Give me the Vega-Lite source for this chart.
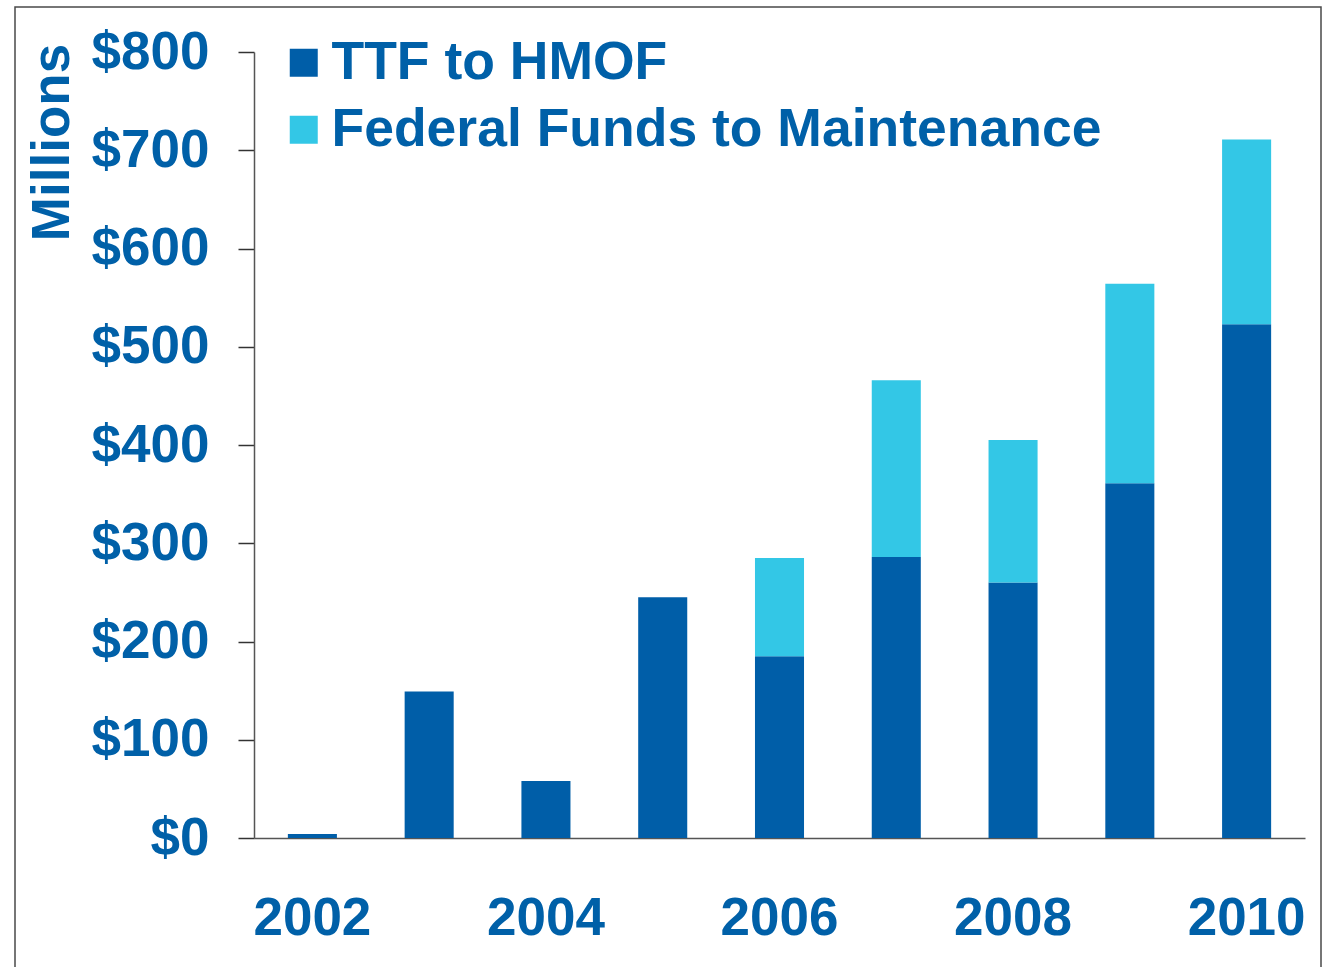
{
  "$schema": "https://vega.github.io/schema/vega-lite/v6.json",
  "width": 1306,
  "height": 962,
  "autosize": {"type": "none"},
  "padding": {"left": 15, "top": 7, "right": 5, "bottom": -2},
  "background": "white",
  "config": {
    "view": {"stroke": "#4a4a4a", "strokeWidth": 1.5},
    "font": "Liberation Sans"
  },
  "data": {
    "values": [
      {"year": 2002, "series": "TTF to HMOF", "amount": 4},
      {"year": 2003, "series": "TTF to HMOF", "amount": 149},
      {"year": 2004, "series": "TTF to HMOF", "amount": 58},
      {"year": 2005, "series": "TTF to HMOF", "amount": 245},
      {"year": 2006, "series": "TTF to HMOF", "amount": 185},
      {"year": 2006, "series": "Federal Funds to Maintenance", "amount": 100},
      {"year": 2007, "series": "TTF to HMOF", "amount": 286},
      {"year": 2007, "series": "Federal Funds to Maintenance", "amount": 180},
      {"year": 2008, "series": "TTF to HMOF", "amount": 260},
      {"year": 2008, "series": "Federal Funds to Maintenance", "amount": 145},
      {"year": 2009, "series": "TTF to HMOF", "amount": 361},
      {"year": 2009, "series": "Federal Funds to Maintenance", "amount": 203},
      {"year": 2010, "series": "TTF to HMOF", "amount": 523},
      {"year": 2010, "series": "Federal Funds to Maintenance", "amount": 188}
    ]
  },
  "mark": {"type": "bar"},
  "encoding": {
    "x": {
      "field": "year",
      "type": "ordinal",
      "scale": {"paddingInner": 0.58, "paddingOuter": 0.29, "range": [239, 1290]},
      "axis": {
        "title": null,
        "offset": -131,
        "values": [2002, 2004, 2006, 2008, 2010],
        "labelAngle": 0,
        "ticks": false,
        "tickSize": 0,
        "labelPadding": 54,
        "labelFont": "Liberation Sans",
        "labelFontSize": 53,
        "labelFontWeight": "bold",
        "labelColor": "#0060A8",
        "domainColor": "#555555",
        "domainWidth": 1.5
      }
    },
    "y": {
      "field": "amount",
      "type": "quantitative",
      "stack": "zero",
      "scale": {"domain": [0, 800], "nice": false, "range": [831, 45]},
      "axis": {
        "title": "Millions",
        "offset": -239,
        "values": [0, 100, 200, 300, 400, 500, 600, 700, 800],
        "format": "$.0f",
        "grid": false,
        "tickSize": 16,
        "tickColor": "#333333",
        "tickWidth": 1.5,
        "domainColor": "#555555",
        "domainWidth": 1.5,
        "labelPadding": 29,
        "labelFont": "Liberation Sans",
        "labelFontSize": 53,
        "labelFontWeight": "bold",
        "labelColor": "#0060A8",
        "titleFont": "Liberation Sans",
        "titleFontSize": 53,
        "titleFontWeight": "bold",
        "titleColor": "#0060A8",
        "titleAngle": -90,
        "titleAlign": "center",
        "titleBaseline": "middle",
        "titleX": -202,
        "titleY": 135
      }
    },
    "color": {
      "field": "series",
      "type": "nominal",
      "scale": {
        "domain": ["TTF to HMOF", "Federal Funds to Maintenance"],
        "range": ["#005EA8", "#33C7E6"]
      },
      "legend": {
        "title": null,
        "orient": "none",
        "legendX": 262,
        "legendY": 29,
        "padding": 0,
        "symbolType": "square",
        "symbolSize": 784,
        "symbolStrokeWidth": 0,
        "labelFont": "Liberation Sans",
        "labelFontSize": 53.5,
        "labelFontWeight": "bold",
        "labelColor": "#0060A8",
        "labelOffset": 1,
        "rowPadding": 12,
        "labelLimit": 1000
      }
    },
    "order": {"field": "series", "sort": "descending"}
  }
}
